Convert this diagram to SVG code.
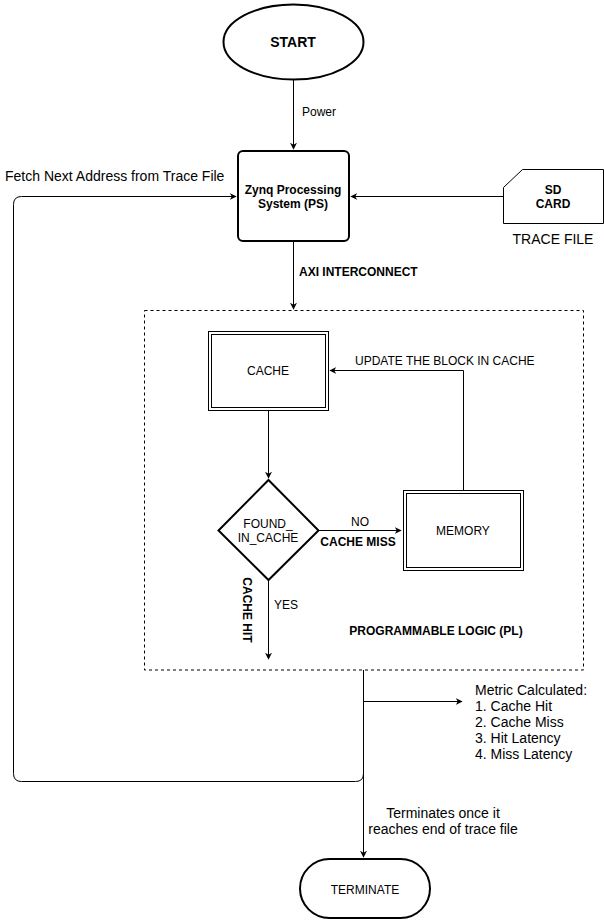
<svg xmlns="http://www.w3.org/2000/svg" width="604" height="920" viewBox="0 0 604 920">
<style>
text{font-family:"Liberation Sans",Arial,sans-serif;fill:#000}
.s12{font-size:12px}
.s14{font-size:14px}
.b{font-weight:bold}
.m{text-anchor:middle}
.ln{fill:none;stroke:#000;stroke-width:1}
.sh{fill:#fff;stroke:#000}
</style>
<defs>
<marker id="ah" viewBox="0 0 10 10" refX="9" refY="5" markerWidth="7" markerHeight="7" markerUnits="userSpaceOnUse" orient="auto">
<path d="M0,0 L10,5 L0,10 L3,5 Z" fill="#000"/>
</marker>
</defs>
<rect width="604" height="920" fill="#fff"/>
<g id="pl-container">
<rect x="144.5" y="310.5" width="439" height="359.5" fill="none" stroke="#000" stroke-dasharray="3,3"/>
<text x="436" y="635" class="s12 b m">PROGRAMMABLE LOGIC (PL)</text>
</g>
<g id="connectors">
<path class="ln" d="M293.5,80 V149" marker-end="url(#ah)"/>
<path class="ln" d="M503,196.5 H351" marker-end="url(#ah)"/>
<path class="ln" d="M293.5,241 V309" marker-end="url(#ah)"/>
<path class="ln" d="M268.5,410 V478" marker-end="url(#ah)"/>
<path class="ln" d="M318,530.5 H401" marker-end="url(#ah)"/>
<path class="ln" d="M463.5,490 V370.5 H330" marker-end="url(#ah)"/>
<path class="ln" d="M268.5,580 V659" marker-end="url(#ah)"/>
<path class="ln" d="M363.5,670 V857" marker-end="url(#ah)"/>
<path class="ln" d="M363.5,701.5 H462" marker-end="url(#ah)"/>
<path class="ln" d="M363.5,701 V773.5 Q363.5,781.5 355.5,781.5 H21.5 Q13.5,781.5 13.5,773.5 V204.5 Q13.5,196.5 21.5,196.5 H236" marker-end="url(#ah)"/>
<text x="302" y="116" class="s12">Power</text>
<text x="299" y="276" class="s12 b">AXI INTERCONNECT</text>
<text x="355" y="365" class="s12">UPDATE THE BLOCK IN CACHE</text>
<text x="360" y="526" class="s12 m">NO</text>
<text x="358" y="546" class="s12 b m">CACHE MISS</text>
<text x="274" y="609" class="s12">YES</text>
<text x="0" y="0" class="s12 b m" transform="translate(243,610) rotate(90)">CACHE HIT</text>
<text x="5" y="181" class="s14">Fetch Next Address from Trace File</text>
<text class="s14">
<tspan x="475" y="695">Metric Calculated:</tspan>
<tspan x="475" y="711">1. Cache Hit</tspan>
<tspan x="475" y="727">2. Cache Miss</tspan>
<tspan x="475" y="743">3. Hit Latency</tspan>
<tspan x="475" y="759">4. Miss Latency</tspan>
</text>
<text x="443" y="818" class="s14 m">Terminates once it</text>
<text x="443" y="834" class="s14 m">reaches end of trace file</text>
</g>
<g id="start">
<ellipse cx="293.5" cy="42" rx="70" ry="37.5" class="sh" stroke-width="2"/>
<text x="293" y="47" class="s14 b m">START</text>
</g>
<g id="ps">
<rect x="238" y="151" width="111" height="90" rx="5" class="sh" stroke-width="2"/>
<text x="293" y="194" class="s12 b m">Zynq Processing</text>
<text x="293" y="208" class="s12 b m">System (PS)</text>
</g>
<g id="sdcard">
<path d="M503.5,187.5 L522.5,169.5 H603.5 V223.5 H503.5 Z" class="sh"/>
<text x="553" y="194" class="s12 b m">SD</text>
<text x="553" y="208" class="s12 b m">CARD</text>
<text x="553" y="244" class="s14 m">TRACE FILE</text>
</g>
<g id="cache">
<rect x="208.5" y="331.5" width="120" height="79" class="sh"/>
<rect x="211.5" y="334.5" width="114" height="73" fill="none" stroke="#000"/>
<text x="268" y="375" class="s12 m">CACHE</text>
</g>
<g id="found">
<path d="M268.5,480 L318.5,530.5 L268.5,580 L218.5,530.5 Z" class="sh" stroke-width="2"/>
<text x="268" y="528" class="s12 m">FOUND_</text>
<text x="268" y="542" class="s12 m">IN_CACHE</text>
</g>
<g id="memory">
<rect x="403.5" y="490.5" width="120" height="80" class="sh"/>
<rect x="406.5" y="493.5" width="114" height="74" fill="none" stroke="#000"/>
<text x="463" y="535" class="s12 m">MEMORY</text>
</g>
<g id="terminate">
<rect x="300" y="859" width="130" height="59" rx="29.5" class="sh" stroke-width="2"/>
<text x="365" y="894" class="s12 m">TERMINATE</text>
</g>
</svg>
